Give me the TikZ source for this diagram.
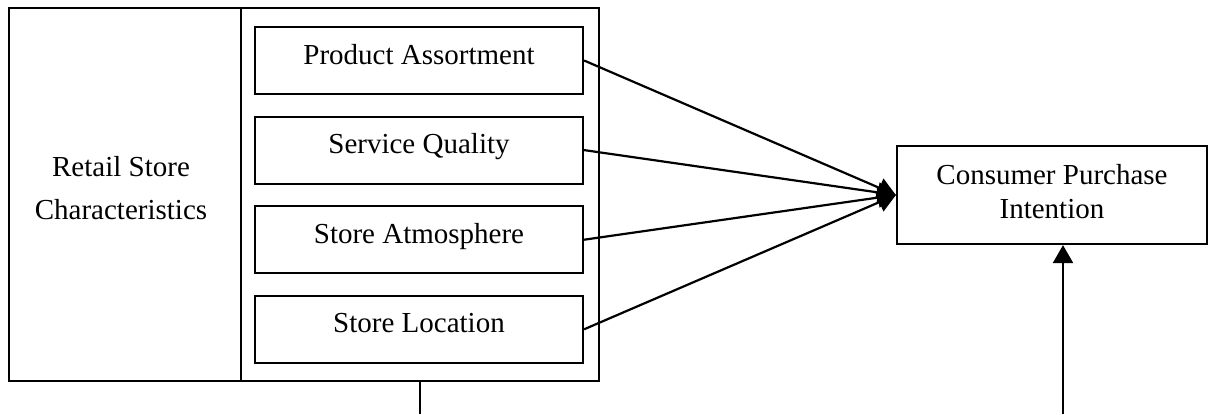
\documentclass[tikz,border=0pt]{standalone}
\usepackage{fontspec}
\setmainfont{Liberation Serif}
\usetikzlibrary{arrows.meta,positioning}

\begin{document}
\begin{tikzpicture}[
  x=0.5pt,y=-0.5pt,
  node distance=10.2pt,
  line width=1.1pt,
  box/.style={draw,line width=1.1pt,inner sep=0pt,align=center,
              font=\fontsize{14.5}{17}\selectfont},
  factor/.style={box,minimum width=164pt,text height=18.5pt,text depth=15pt},
  arr/.style={-{Triangle[length=9pt,width=10pt]},line width=1.1pt}
]
\useasboundingbox (0,0) rectangle (1212,414);

% retail store panel
\node[box,minimum width=116pt,minimum height=186.5pt] (rsc) at (125,194.5) {};
\node[font=\fontsize{14.5}{21.5}\selectfont,align=center,inner sep=0pt]
      (rsctext) at (121,188.5) {Retail Store\\Characteristics};
\node[box,minimum width=179pt,minimum height=186.5pt] (panel) at (420,194.5) {};

% store characteristics
\node[factor] (pa) at (419,60.5) {Product Assortment};
\node[factor,below=of pa] (sq) {Service Quality};
\node[factor,below=of sq] (sa) {Store Atmosphere};
\node[factor,below=of sa] (sl) {Store Location};

% outcome
\node[box,minimum width=155pt,minimum height=49pt,text depth=4pt] (cpi) at (1052,195)
      {Consumer Purchase\\Intention};

\foreach \f in {pa,sq,sa,sl}
  \draw[arr] (\f.east) -- (cpi.west);

% lines leaving the picture
\coordinate (panelout) at (420,414);
\draw (panel.south) -- (panelout);
\coordinate (cpiin) at (1063,414);
\draw[arr] (cpiin) -- (cpiin |- cpi.south);
\end{tikzpicture}
\end{document}
